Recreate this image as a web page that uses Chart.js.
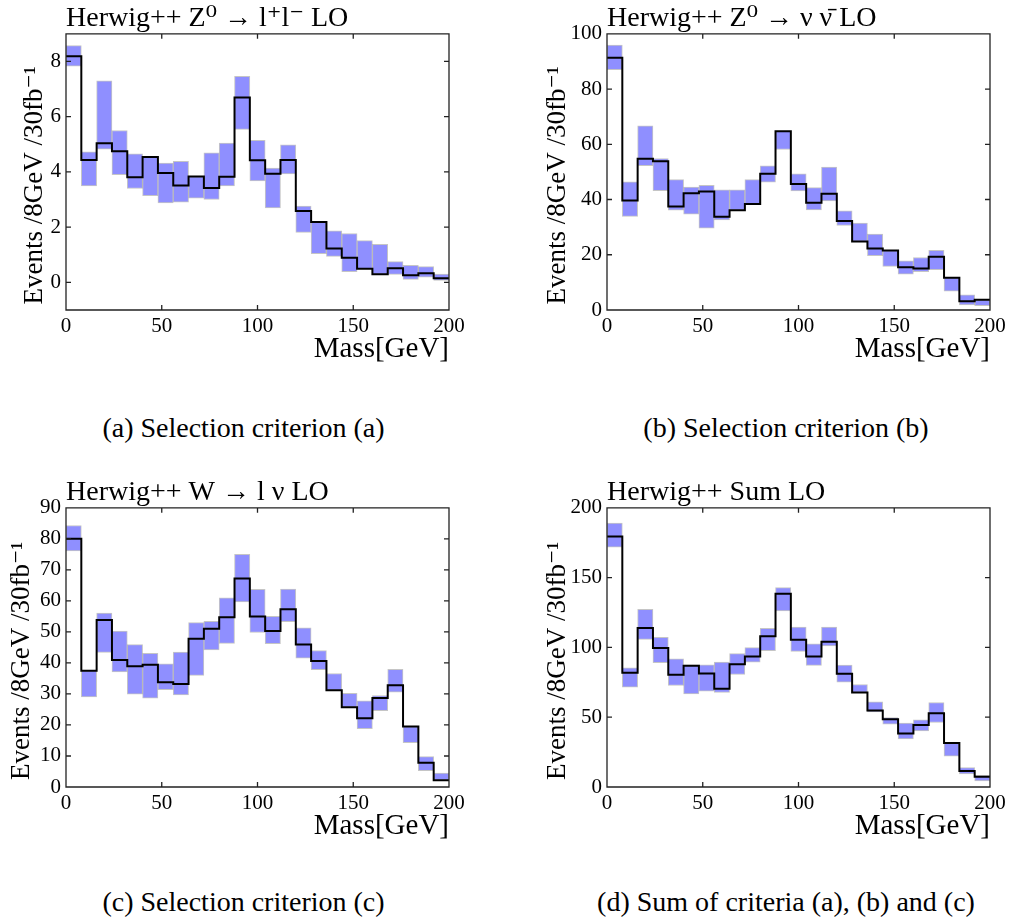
<!DOCTYPE html>
<html>
<head>
<meta charset="utf-8">
<script src="https://cdn.jsdelivr.net/npm/chart.js@4/dist/chart.umd.min.js"></script>
<style>
  body { margin: 0; background: #fff; width: 1014px; height: 922px; position: relative; overflow: hidden; }
  .panel { position: absolute; width: 473px; }
  .caption { position: absolute; text-align: center; font-family: 'Liberation Serif', 'DejaVu Serif', serif; font-size: 28px; line-height: 28px; color: #000; }
</style>
</head>
<body>
<div class="panel" style="left:0;top:0;height:380px"><canvas id="chartA"></canvas></div>
<div class="panel" style="left:541px;top:0;height:380px"><canvas id="chartB"></canvas></div>
<div class="panel" style="left:0;top:474px;height:383px"><canvas id="chartC"></canvas></div>
<div class="panel" style="left:541px;top:474px;height:383px"><canvas id="chartD"></canvas></div>

<div class="caption" style="left:0;top:414px;width:487px">(a) Selection criterion (a)</div>
<div class="caption" style="left:543px;top:414px;width:486px">(b) Selection criterion (b)</div>
<div class="caption" style="left:0;top:888px;width:487px">(c) Selection criterion (c)</div>
<div class="caption" style="left:543px;top:888px;width:486px">(d) Sum of criteria (a), (b) and (c)</div>

<script>
// Bin edges in GeV (25 bins of 8 GeV)
const binEdges = [0, 8, 16, 24, 32, 40, 48, 56, 64, 72, 80, 88, 96, 104, 112, 120, 128, 136, 144, 152, 160, 168, 176, 184, 192, 200];
const xTicks = [0, 50, 100, 150, 200];

// (a) Z0 -> l+ l-
const lineA = [8.19, 4.43, 5.04, 4.75, 3.81, 4.54, 3.96, 3.51, 3.83, 3.42, 3.82, 6.69, 4.42, 3.93, 4.43, 2.58, 2.19, 1.23, 0.89, 0.49, 0.29, 0.51, 0.26, 0.33, 0.15];
const lowA  = [7.83, 3.49, 4.82, 3.90, 3.40, 3.14, 2.88, 2.90, 3.05, 3.00, 3.49, 5.54, 3.67, 2.70, 3.93, 1.81, 1.04, 0.94, 0.39, 0.49, 0.29, 0.29, 0.11, 0.19, 0.07];
const highA = [8.57, 4.73, 7.30, 5.50, 4.65, 4.54, 4.32, 4.38, 3.83, 4.69, 5.04, 7.46, 5.14, 4.14, 4.98, 2.76, 2.19, 1.87, 1.77, 1.51, 1.38, 0.75, 0.62, 0.57, 0.30];
const yTicksA = [0, 2, 4, 6, 8];

// (b) Z0 -> nu nubar
const lineB = [91.3, 39.6, 54.8, 53.9, 37.5, 42.3, 42.9, 33.8, 36.1, 38.4, 49.3, 64.7, 45.6, 38.8, 42.1, 32.2, 24.8, 22.3, 21.5, 15.5, 15.0, 19.3, 11.7, 3.2, 3.7];
const lowB  = [87.0, 33.9, 52.3, 43.2, 36.1, 34.7, 29.6, 32.6, 36.1, 38.4, 46.3, 58.1, 43.1, 36.2, 39.5, 30.6, 24.8, 19.7, 15.8, 13.0, 13.9, 14.6, 6.8, 1.8, 1.6];
const highB = [95.9, 46.4, 66.7, 54.8, 47.2, 44.5, 45.1, 43.5, 43.5, 47.2, 52.2, 64.7, 49.3, 44.3, 51.7, 35.9, 31.5, 27.5, 21.5, 17.8, 19.0, 21.6, 11.7, 5.5, 3.7];
const yTicksB = [0, 20, 40, 60, 80, 100];

// (c) W -> l nu
const lineC = [80.0, 37.5, 53.8, 40.9, 38.9, 39.4, 33.8, 33.2, 47.8, 51.0, 54.7, 67.2, 55.0, 50.3, 57.3, 45.9, 40.6, 31.2, 25.7, 22.2, 28.7, 32.8, 19.5, 7.8, 2.2];
const lowC  = [76.1, 29.0, 43.4, 37.1, 29.9, 28.6, 31.4, 29.7, 36.0, 44.2, 46.3, 59.7, 49.8, 46.2, 53.3, 41.5, 37.8, 31.2, 25.7, 18.8, 24.6, 30.6, 14.3, 5.3, 2.2];
const highC = [84.3, 37.5, 56.1, 50.3, 45.9, 43.1, 39.7, 43.5, 53.0, 53.4, 61.0, 75.0, 63.7, 55.0, 63.8, 51.3, 44.0, 36.6, 30.2, 27.8, 29.5, 37.9, 19.5, 9.8, 4.5];
const yTicksC = [0, 10, 20, 30, 40, 50, 60, 70, 80, 90];

// (d) Sum
const lineD = [179.4, 81.8, 113.9, 99.5, 80.4, 86.8, 81.3, 70.3, 88.0, 93.5, 107.9, 138.5, 105.5, 93.5, 104.1, 81.1, 67.7, 54.8, 48.6, 38.3, 44.5, 52.9, 31.6, 11.5, 7.4];
const lowD  = [171.8, 71.5, 105.7, 89.0, 72.7, 66.7, 68.7, 67.7, 80.6, 89.5, 97.6, 126.1, 97.1, 87.1, 101.0, 75.1, 67.7, 53.8, 45.0, 34.4, 40.2, 46.2, 22.0, 9.3, 4.3];
const highD = [189.0, 85.4, 127.3, 107.2, 91.9, 87.6, 87.6, 89.5, 95.5, 99.8, 113.6, 142.8, 114.6, 102.6, 114.6, 87.3, 73.4, 61.0, 49.8, 45.7, 48.1, 60.5, 31.6, 13.9, 8.4];
const yTicksD = [0, 50, 100, 150, 200];

const FONT = "'Liberation Serif', 'DejaVu Serif', serif";
Chart.defaults.font.family = FONT;
Chart.defaults.color = '#000';

// frame around the plot with matplotlib-style inward ticks on all sides
const inwardTicks = {
    id: 'inwardTicks',
    afterDatasetsDraw(chart) {
        const { ctx, chartArea: a, scales: { x, y } } = chart;
        const len = 5;
        ctx.save();
        ctx.strokeStyle = '#222';
        ctx.lineWidth = 1.3;
        ctx.beginPath();
        x.ticks.forEach(t => {
            const px = x.getPixelForValue(t.value);
            ctx.moveTo(px, a.bottom); ctx.lineTo(px, a.bottom - len);
            ctx.moveTo(px, a.top); ctx.lineTo(px, a.top + len);
        });
        y.ticks.forEach(t => {
            const py = y.getPixelForValue(t.value);
            ctx.moveTo(a.left, py); ctx.lineTo(a.left + len, py);
            ctx.moveTo(a.right, py); ctx.lineTo(a.right - len, py);
        });
        ctx.rect(a.left, a.top, a.right - a.left, a.bottom - a.top);
        ctx.stroke();
        ctx.restore();
    }
};

function makePanel(id, title, line, low, high, yMin, yMax, yTicks, labelPad) {
    const band = low.map((lo, i) => ({ x: (binEdges[i] + binEdges[i + 1]) / 2, y: [lo, high[i]] }));
    const steps = binEdges.map((e, i) => ({ x: e, y: line[Math.min(i, line.length - 1)] }));

    new Chart(document.getElementById(id), {
        type: 'bar',
        data: {
            datasets: [{
                type: 'bar',
                data: band,
                backgroundColor: '#8f8fff',
                borderColor: 'rgba(110,110,110,0.4)',
                borderWidth: 1,
                borderSkipped: false,
                barPercentage: 1,
                categoryPercentage: 1,
                grouped: false,
                order: 1
            }, {
                type: 'line',
                data: steps,
                stepped: true,
                borderColor: '#000',
                borderWidth: 2,
                pointRadius: 0,
                fill: false,
                order: 0
            }]
        },
        options: {
            responsive: true,
            maintainAspectRatio: false,
            animation: false,
            layout: { padding: { left: 0, right: 24, top: 0, bottom: 0 } },
            plugins: {
                legend: { display: false },
                tooltip: { enabled: false },
                title: {
                    display: true,
                    text: title,
                    align: 'start',
                    fullSize: false,
                    font: { size: 28, weight: 'normal', lineHeight: 1.1 },
                    padding: { top: 3, bottom: 0 }
                }
            },
            scales: {
                x: {
                    type: 'linear',
                    min: 0,
                    max: 200,
                    offset: false,
                    grid: { display: false, drawTicks: false, offset: false },
                    border: { display: false },
                    afterBuildTicks: s => { s.ticks = xTicks.map(v => ({ value: v })); },
                    afterFit: s => { s.height = 70; },
                    ticks: { font: { size: 21 }, padding: 4, maxRotation: 0 },
                    title: {
                        display: true,
                        text: 'Mass[GeV]',
                        align: 'end',
                        font: { size: 29, lineHeight: 1 },
                        padding: { top: 0, bottom: 16 }
                    }
                },
                y: {
                    min: yMin,
                    max: yMax,
                    grid: { display: false, drawTicks: false },
                    border: { display: false },
                    afterBuildTicks: s => { s.ticks = yTicks.map(v => ({ value: v })); },
                    afterFit: s => { s.width = 66; },
                    ticks: { font: { size: 21 }, padding: 5 },
                    title: {
                        display: true,
                        text: 'Events /8GeV /30fb\u207B\u00B9\u2003',
                        font: { size: 27, lineHeight: 1 },
                        padding: { top: labelPad, bottom: 0 }
                    }
                }
            }
        },
        plugins: [inwardTicks]
    });
}

makePanel('chartA', 'Herwig++ Z\u2070 \u2192 l\u207Al\u207B LO', lineA, lowA, highA, -1, 9, yTicksA, 21);
makePanel('chartB', 'Herwig++ Z\u2070 \u2192 \u03BD \u03BD\u0304 LO', lineB, lowB, highB, 0, 100, yTicksB, 3);
makePanel('chartC', 'Herwig++ W \u2192 l \u03BD LO', lineC, lowC, highC, 0, 90, yTicksC, 8);
makePanel('chartD', 'Herwig++ Sum LO', lineD, lowD, highD, 0, 200, yTicksD, 3);
</script>
</body>
</html>
